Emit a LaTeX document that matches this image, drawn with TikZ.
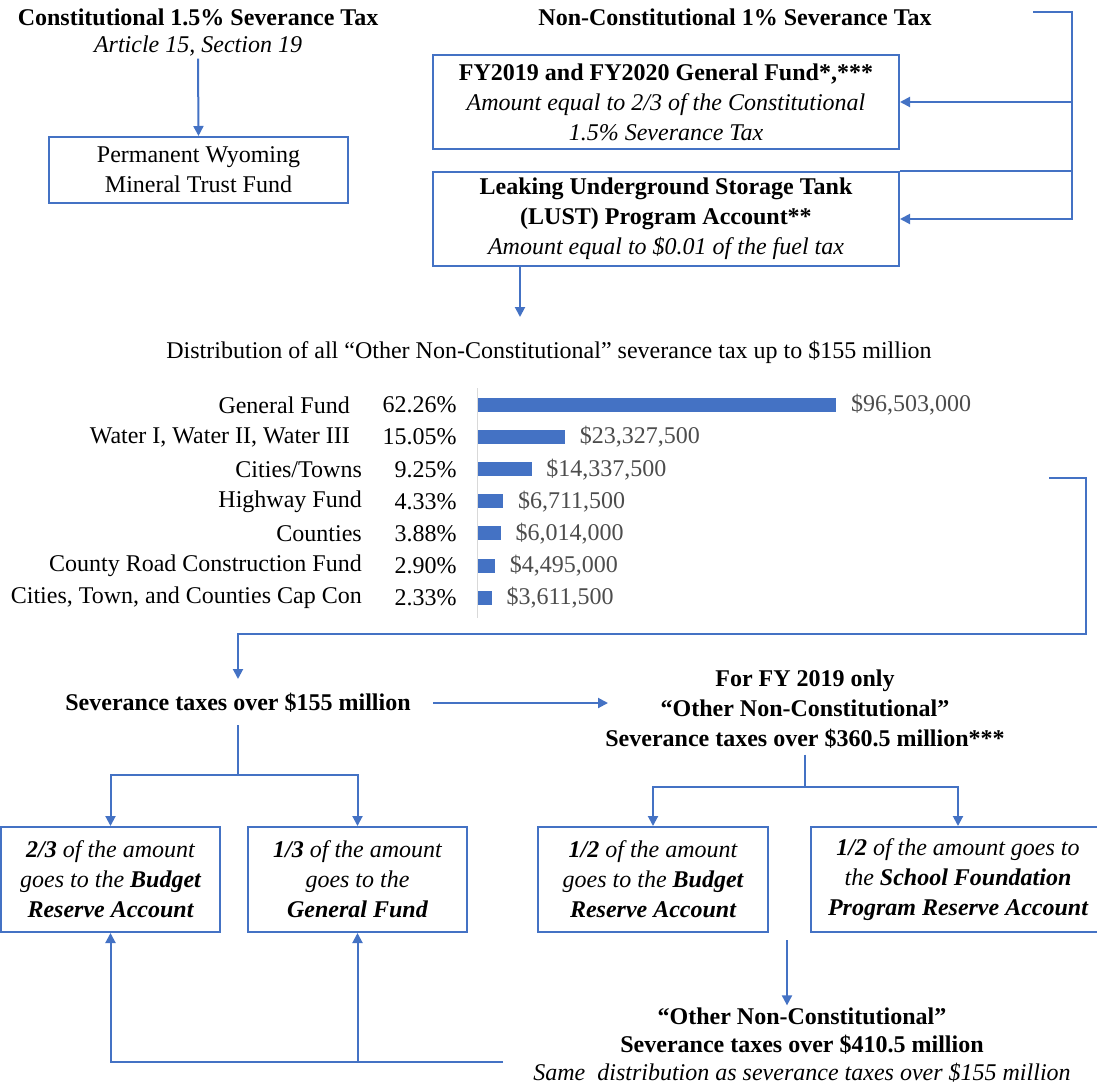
\documentclass[tikz,border=0pt]{standalone}
\usepackage{fontspec}
\setmainfont{Liberation Serif}
\usetikzlibrary{arrows.meta,positioning}
\definecolor{lineblue}{RGB}{68,114,196}
\definecolor{axisgray}{RGB}{217,217,217}
\newcommand{\basefont}{\fontsize{12}{15}\selectfont}
\tikzset{>={Triangle[length=5pt,width=5pt]}}

\begin{document}
\begin{tikzpicture}[x=0.5pt,y=-0.5pt,
  flow/.style={draw=lineblue,line width=1pt},
  box/.style={draw=lineblue,line width=1pt,align=center,inner sep=0pt,font=\basefont},
  ibox/.style={box,font=\basefont\itshape,minimum height=52.5pt},
  head/.style={align=center,inner sep=1pt,font=\basefont\bfseries},
  note/.style={align=center,inner sep=1pt,font=\basefont\itshape},
  plain/.style={inner sep=0pt,font=\basefont},
  bar/.style={fill=lineblue,inner sep=0pt,minimum height=7pt,anchor=west},
  amount/.style={inner sep=0pt,font=\basefont,text=black!70,anchor=west}]

\useasboundingbox (0,0) rectangle (1097,1086);

% constitutional tax
\node[head] (ctax) at (198,17) {Constitutional 1.5\% Severance Tax};
\node[note] (csec) at (198,46) {Article 15, Section 19};
\node[box,minimum width=149.5pt,minimum height=33pt] (mtf) at (198.5,170) {Permanent Wyoming\\Mineral Trust Fund};
\draw[flow,->] (csec.south) -- (mtf.north);

% non-constitutional tax
\node[head] (nctax) at (735,17) {Non-Constitutional 1\% Severance Tax};
\node[box,minimum width=233pt,minimum height=47pt] (gf1920) at (666,102) {\textbf{FY2019 and FY2020 General Fund*,***}\\\textit{Amount equal to 2/3 of the Constitutional}\\\textit{1.5\% Severance Tax}};
\node[box,minimum width=233pt,minimum height=47pt] (lust) at (666,219) {\textbf{Leaking Underground Storage Tank}\\\textbf{(LUST) Program Account**}\\\textit{Amount equal to \$0.01 of the fuel tax}};
\coordinate (ncstart) at (1033,12);
\coordinate (nccorner) at (1072,12);
\draw[flow,->] (ncstart) -- (nccorner) |- (lust.east);
\draw[flow,->] (gf1920.east -| nccorner) -- (gf1920.east);
\draw[flow] (lust.north east) -- (lust.north east -| nccorner);

% distribution up to 155 million
\coordinate (distin) at (520,317);
\draw[flow,->] (lust.south -| distin) -- (distin);
\node[plain] (dist) at (549,352) {Distribution of all “Other Non-Constitutional” severance tax up to \$155 million};
\draw[axisgray,line width=0.5pt] (477,388) -- (477,618);
\foreach \lab/\pct/\val/\amt [count=\i from 0] in {
    General Fund/62.26/96.503/{\$96,503,000},
    {Water I, Water II, Water III}/15.05/23.3275/{\$23,327,500},
    {Cities/Towns}/9.25/14.3375/{\$14,337,500},
    Highway Fund/4.33/6.7115/{\$6,711,500},
    Counties/3.88/6.014/{\$6,014,000},
    County Road Construction Fund/2.90/4.495/{\$4,495,000},
    {Cities, Town, and Counties Cap Con}/2.33/3.6115/{\$3,611,500}}
{
  \pgfmathsetmacro{\rowy}{405+32.1*\i}
  \pgfmathsetmacro{\barw}{\val*1.855}
  \node[plain,anchor=east] (pct\i) at (457,\rowy) {\pct\%};
  \node[plain,anchor=east] (lab\i) at ([xshift=-16pt]pct\i.west) {\lab};
  \node[bar,minimum width=\barw pt] (bar\i) at (478,\rowy) {};
  \node[amount] (amt\i) at ([xshift=7pt]bar\i.east) {\amt};
}

% over 155 million
\coordinate (chartout) at (1049,478);
\coordinate (chartturn) at (1086,634);
\node[head] (sev155) at (238,703) {Severance taxes over \$155 million};
\draw[flow,->] (chartout) -| (chartturn) -| ([yshift=6pt]sev155.north);
\node[head] (fy2019) at (805,709) {For FY 2019 only\\“Other Non-Constitutional”\\Severance taxes over \$360.5 million***};
\coordinate (fyin) at (608,703);
\draw[flow,->] ([xshift=10pt]sev155.east) -- (fyin);

\coordinate (lsplit) at (238,775);
\draw[flow] ([yshift=-5pt]sev155.south) -- (lsplit);
\node[ibox,minimum width=109.5pt] (bra) at (110.5,879.5) {\textbf{2/3} of the amount\\goes to the \textbf{Budget}\\\textbf{Reserve Account}};
\node[ibox,minimum width=109.5pt] (gfb) at (357.5,879.5) {\textbf{1/3} of the amount\\goes to the\\\textbf{General Fund}};
\draw[flow,->] (lsplit) -| (bra.north);
\draw[flow,->] (lsplit) -| (gfb.north);

% FY 2019 split
\coordinate (rsplit) at (805,787);
\draw[flow] ([yshift=-2pt]fy2019.south) -- (rsplit);
\node[ibox,minimum width=115pt] (brc) at (653,879.5) {\textbf{1/2} of the amount\\goes to the \textbf{Budget}\\\textbf{Reserve Account}};
\node[ibox,minimum width=147pt] (sfp) at (958,879.5) {\textbf{1/2} of the amount goes to\\the \textbf{School Foundation}\\\textbf{Program Reserve Account}};
\draw[flow,->] (rsplit) -| (brc.north);
\draw[flow,->] (rsplit) -| (sfp.north);

% over 410.5 million
\node[head] (o410) at (802,1045) {“Other Non-Constitutional”\\[-1pt]Severance taxes over \$410.5 million\\[-1pt]{\mdseries\itshape Same\ \ distribution as severance taxes over \$155 million}};
\coordinate (o410in) at (787,940);
\draw[flow,->] (o410in) -- (o410in |- o410.north);
\coordinate (backin) at (503,1062);
\draw[flow,->] (backin) -| (bra.south);
\draw[flow,->] (backin -| gfb.south) -- (gfb.south);
\end{tikzpicture}
\end{document}
